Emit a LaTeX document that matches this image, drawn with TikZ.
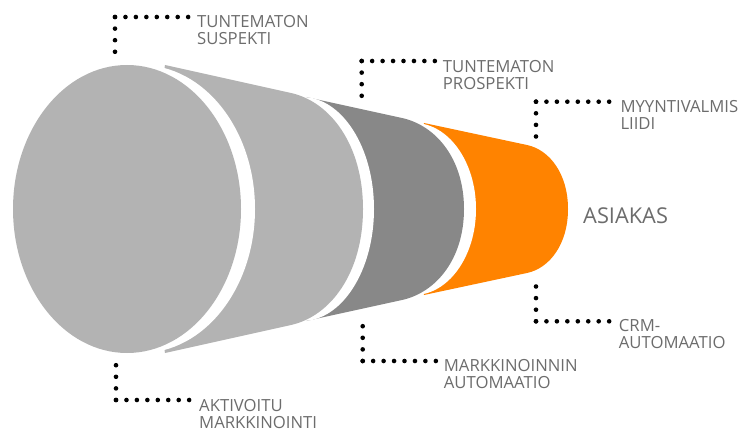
\documentclass[tikz,border=0pt]{standalone}
\usepackage{fontspec}
\setmainfont{Open Sans}
\definecolor{lightg}{RGB}{179,179,179}
\definecolor{darkg}{RGB}{136,136,136}
\definecolor{orng}{RGB}{255,131,0}
\definecolor{txtg}{RGB}{108,108,108}
\tikzset{
  hdots/.style={line width=4.6pt, line cap=round, dash pattern=on 0pt off 10.45pt},
  vdots/.style={line width=4.6pt, line cap=round, dash pattern=on 0pt off 11.6pt},
  lab/.style={anchor=north west, inner sep=0pt, align=left, text=txtg,
    font=\fontsize{16.7}{17.3}\selectfont},
  big/.style={anchor=west, inner sep=0pt, text=txtg, font=\fontsize{21.8}{24}\selectfont}
}
\begin{document}
\begin{tikzpicture}[x=1pt,y=1pt]
\useasboundingbox (0,0) rectangle (752,-430);
% orange segment
\fill[orng] (424,-123) -- (527,-145)
  .. controls (549.6,-149.8) and (568,-173.8) .. (568,-209)
  .. controls (568,-244.2) and (549.6,-268.2) .. (527,-273)
  -- (424,-295) -- (414,-209) -- cycle;
\fill[white] (414,-209) ellipse[x radius=62, y radius=86];
% dark segment
\fill[darkg] (306,-97) -- (402,-118)
  .. controls (436.1,-125.5) and (464,-159) .. (464,-209)
  .. controls (464,-259) and (436.1,-292.5) .. (402,-300)
  -- (306,-321) -- (302,-209) -- cycle;
\fill[white] (302,-209) ellipse[x radius=72, y radius=112];
% light segment
\fill[lightg] (165,-65) -- (291,-93)
  .. controls (330.6,-101.8) and (363,-145.2) .. (363,-209)
  .. controls (363,-272.8) and (330.6,-316.2) .. (291,-325)
  -- (165,-353) -- (141,-209) -- cycle;
\fill[white] (141,-209) ellipse[x radius=114, y radius=144];
% big front ellipse
\fill[lightg] (127,-209) ellipse[x radius=114, y radius=144];

% labels
\node[lab] (l1) at (197,-15) {TUNTEMATON\\SUSPEKTI};
\node[lab] (l2) at (442.7,-60) {TUNTEMATON\\PROSPEKTI};
\node[lab] (l3) at (620.3,-100) {MYYNTIVALMIS\\LIIDI};
\node[lab] (l4) at (618.7,-319.3) {CRM-\\AUTOMAATIO};
\node[lab] (l5) at (443.7,-359.3) {MARKKINOINNIN\\AUTOMAATIO};
\node[lab] (l6) at (199,-398.8) {AKTIVOITU\\MARKKINOINTI};
\node[big] (asiakas) at (583,-216) {ASIAKAS};

% leaders
\coordinate (k1) at (115,-17);    \coordinate (v1) at (115,-52.2);   \coordinate (h1) at (188.5,-17);
\coordinate (k2) at (361.7,-61);  \coordinate (v2) at (361.7,-96.2); \coordinate (h2) at (435.2,-61);
\coordinate (k3) at (536,-101.7); \coordinate (v3) at (536,-136.9);  \coordinate (h3) at (609.5,-101.7);
\coordinate (k4) at (536,-321.3); \coordinate (v4) at (536,-286.1);  \coordinate (h4) at (609.5,-321.3);
\coordinate (k5) at (362.7,-361); \coordinate (v5) at (362.7,-325.8);\coordinate (h5) at (436.2,-361);
\coordinate (k6) at (116,-400);   \coordinate (v6) at (116,-364.8);  \coordinate (h6) at (189.5,-400);
\foreach \i in {1,...,6}{
  \draw[vdots] (k\i) -- (v\i);
  \draw[hdots] (k\i) -- (h\i);
}
\end{tikzpicture}
\end{document}
